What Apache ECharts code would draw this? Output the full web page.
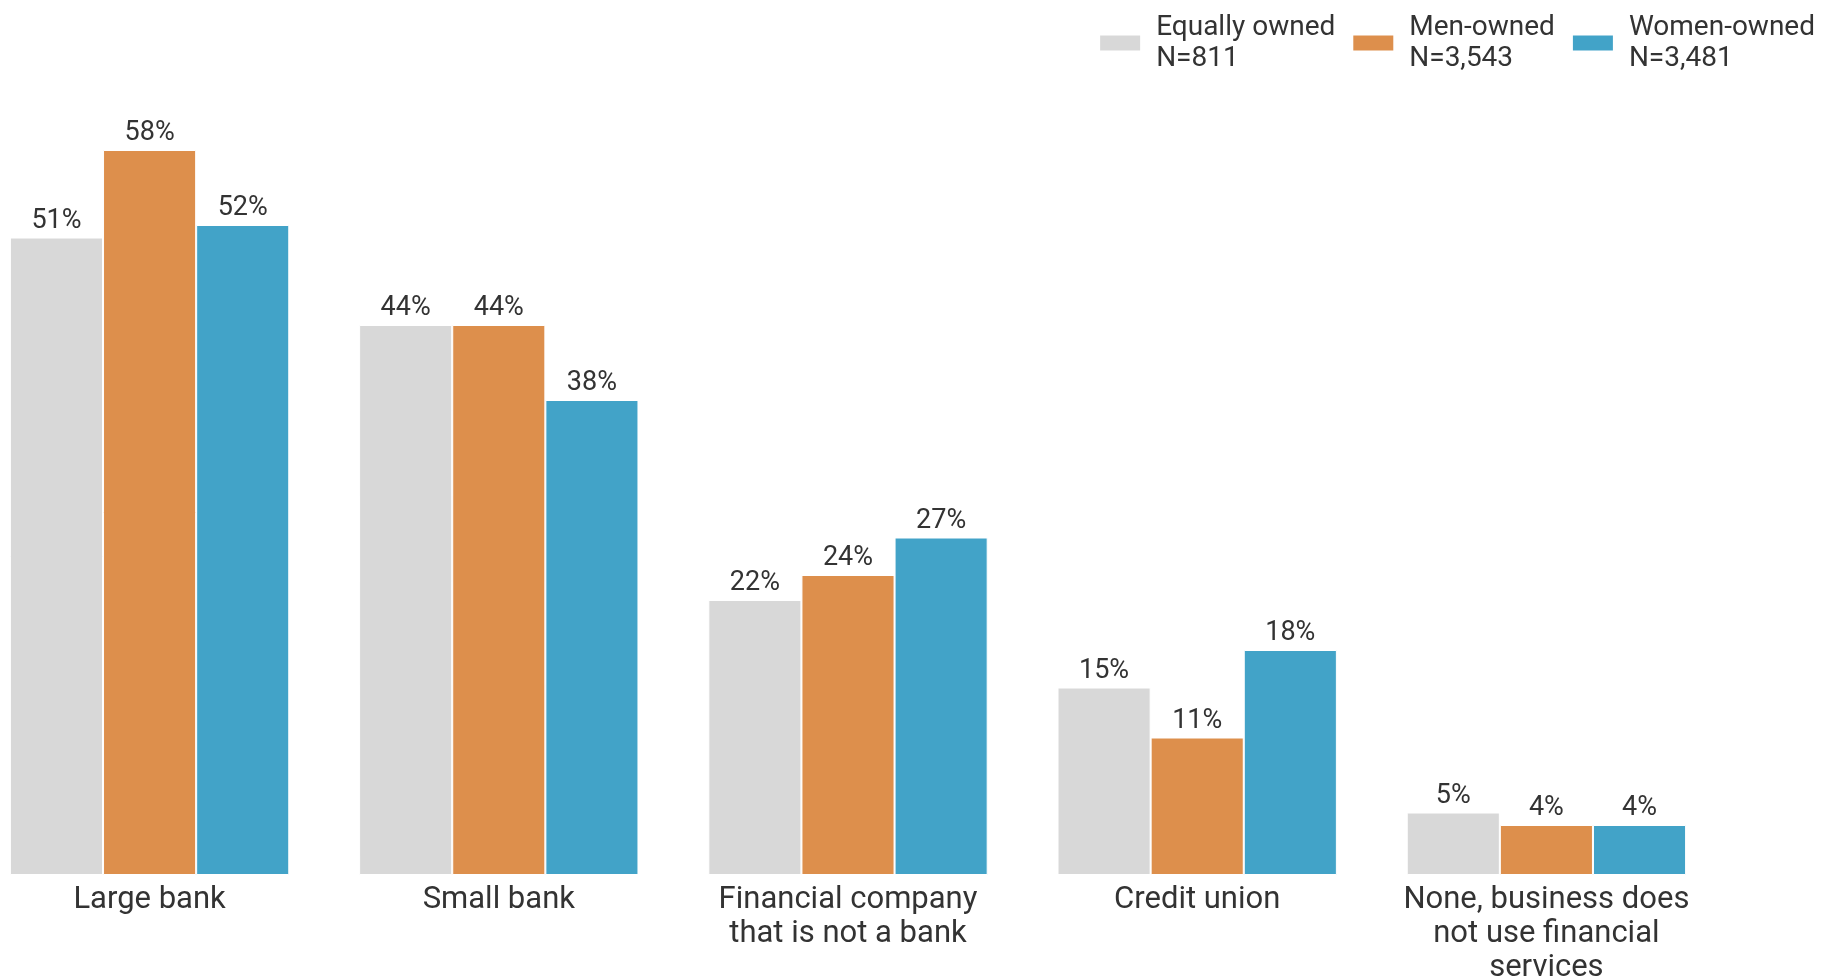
<!DOCTYPE html>
<html>
<head>
<meta charset="utf-8">
<style>
html,body{margin:0;padding:0;background:#fff;}
#chart{width:1826px;height:977px;}
</style>
<script src="https://cdn.jsdelivr.net/npm/echarts@6/dist/echarts.min.js"></script>
</head>
<body>
<div id="chart"></div>
<script>
const categories = ['Large bank', 'Small bank', 'Financial company\nthat is not a bank', 'Credit union', 'None, business does\nnot use financial\nservices'];
const seriesNames = ['Equally owned', 'Men-owned', 'Women-owned'];
const seriesN = ['N=811', 'N=3,543', 'N=3,481'];
const equallyOwned = [51, 44, 22, 15, 5];
const menOwned = [58, 44, 24, 11, 4];
const womenOwned = [52, 38, 27, 18, 4];
const colors = ['#d8d8d8', '#dd8f4c', '#42a3c8'];

const values = [equallyOwned, menOwned, womenOwned];
const chart = echarts.init(document.getElementById('chart'));
const font = 'Roboto, "Noto Sans", sans-serif';
chart.setOption({
  animation: false,
  textStyle: { fontFamily: font },
  legend: {
    right: 6,
    top: 7,
    itemWidth: 42,
    itemHeight: 17,
    itemGap: 16,
    icon: 'rect',
    data: seriesNames,
    formatter: function (name) {
      return name + '\n' + seriesN[seriesNames.indexOf(name)];
    },
    textStyle: { fontSize: 28, lineHeight: 31, color: '#333', fontFamily: font, padding: [0, 0, 0, 10] }
  },
  grid: { left: -25, right: 105, top: 125, bottom: 102, containLabel: false, outerBoundsMode: 'none' },
  xAxis: {
    type: 'category',
    data: categories,
    axisLine: { show: false },
    axisTick: { show: false },
    axisLabel: { fontSize: 31, lineHeight: 34, color: '#333', margin: 8, interval: 0, fontFamily: font }
  },
  yAxis: {
    type: 'value',
    min: 0,
    max: 60,
    show: false,
    splitLine: { show: false }
  },
  series: seriesNames.map((name, i) => ({
    name: name,
    type: 'bar',
    data: values[i],
    barGap: '0%',
    barCategoryGap: '20%',
    itemStyle: { color: colors[i], borderColor: '#ffffff', borderWidth: 1 },
    label: {
      show: true,
      position: 'top',
      distance: 3,
      formatter: '{c}%',
      fontSize: 27,
      color: '#333',
      fontFamily: font
    }
  }))
});
</script>
</body>
</html>
